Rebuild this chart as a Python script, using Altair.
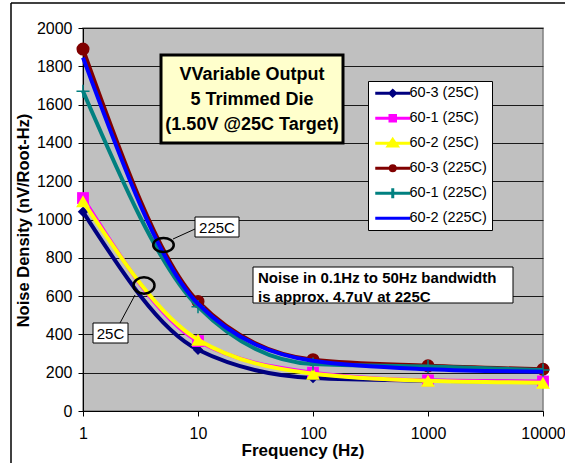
import altair as alt
import pandas as pd

# ---------------- data ----------------
freq = [1, 10, 100, 1000, 10000]
series = ["60-3 (25C)", "60-1 (25C)", "60-2 (25C)",
          "60-3 (225C)", "60-1 (225C)", "60-2 (225C)"]
s_60_3_25 = [1040, 320, 172, 158, 150]
s_60_1_25 = [1112, 365, 200, 160, 154]
s_60_2_25 = [1095, 372, 195, 158, 148]
s_60_3_225 = [1890, 572, 268, 236, 218]
s_60_1_225 = [1670, 545, 245, 232, 214]
s_60_2_225 = [1845, 560, 262, 218, 205]
all_values = [s_60_3_25, s_60_1_25, s_60_2_25, s_60_3_225, s_60_1_225, s_60_2_225]
colors = ["#000080", "#FF00FF", "#FFFF00", "#800000", "#008080", "#0000FF"]
y_ticks = list(range(0, 2001, 200))

rows = []
for name, vals in zip(series, all_values):
    for f, v in zip(freq, vals):
        rows.append({"series": name, "freq": f, "noise": v})
df = pd.DataFrame(rows)

FONT = "Liberation Sans"

# ---------------- encodings ----------------
X = alt.X("freq:Q",
          scale=alt.Scale(type="log", domain=[1, 10000]),
          axis=alt.Axis(values=freq, format="d", grid=False, title="Frequency (Hz)",
                        titleFont=FONT, titleFontSize=17, titleFontWeight="bold",
                        titleColor="black", titleX=219.5, titleY=39,
                        titleBaseline="middle", titleAlign="center",
                        labelFont=FONT, labelFontSize=16, labelColor="black",
                        labelPadding=9, tickSize=5, tickColor="black",
                        domainColor="black", labelFlush=False))
Y = alt.Y("noise:Q",
          scale=alt.Scale(domain=[0, 2000], nice=False),
          axis=alt.Axis(values=y_ticks, format="d", grid=True, gridColor="#1a1a1a",
                        gridWidth=1, title="Noise Density (nV/Root-Hz)",
                        titleFont=FONT, titleFontSize=16.5, titleFontWeight="bold",
                        titleColor="black", titleX=-60, titleY=192, titleAngle=270,
                        titleBaseline="middle", titleAlign="center",
                        labelFont=FONT, labelFontSize=16, labelColor="black",
                        labelPadding=6, tickSize=5, tickColor="black",
                        domainColor="black"))

cscale = alt.Scale(domain=series, range=colors)

marker_specs = [
    dict(shape="diamond", size=110, filled=True),
    dict(shape="square", size=140, filled=True),
    dict(shape="triangle-up", size=190, filled=True),
    dict(shape="circle", size=170, filled=True),
    dict(shape="M-1,0H1M0,-1V1", size=170, filled=False),
    None,
]

base = alt.Chart(df)
layers = []
for name, spec in zip(series, marker_specs):
    sub = base.transform_filter(alt.datum.series == name)
    layers.append(
        sub.mark_line(interpolate="monotone", strokeWidth=4).encode(
            x=X, y=Y, stroke=alt.Stroke("series:N", scale=cscale, legend=None))
    )
    if spec is not None:
        if spec["filled"]:
            layers.append(
                sub.mark_point(shape=spec["shape"], size=spec["size"], filled=True,
                               opacity=1).encode(
                    x=X, y=Y, fill=alt.Fill("series:N", scale=cscale, legend=None))
            )
        else:
            layers.append(
                sub.mark_point(shape=spec["shape"], size=spec["size"], filled=False,
                               strokeWidth=1.5, opacity=1).encode(
                    x=X, y=Y, stroke=alt.Stroke("series:N", scale=cscale, legend=None))
            )

# ---------------- legend (symbols: line + marker) ----------------
legend_shapes = [
    "M-1,0H6M2.5,-0.55L3.05,0L2.5,0.55L1.95,0Z",
    "M-1,0H6M1.95,-0.55H3.05V0.55H1.95Z",
    "M-1,0H6M2.5,-0.75L3.4,0.55L1.6,0.55Z",
    "M-1,0H6M2,0A0.5,0.5 0 1,0 3,0A0.5,0.5 0 1,0 2,0Z",
    "M-1,0H6M2.5,-1V1",
    "M-1,0H6",
]
leg = alt.Legend(title=None, orient="none", legendX=285, legendY=53, padding=5,
                 fillColor="white", strokeColor="black",
                 labelFont=FONT, labelFontSize=14.5, labelColor="black",
                 symbolSize=100, symbolStrokeWidth=3, labelOffset=22,
                 rowPadding=2, gridAlign="all")
legend_layer = base.transform_filter("false").mark_point(filled=True, opacity=1).encode(
    x=X, y=Y,
    fill=alt.Fill("series:N", scale=cscale, legend=leg),
    stroke=alt.Stroke("series:N", scale=cscale, legend=leg),
    shape=alt.Shape("series:N", scale=alt.Scale(domain=series, range=legend_shapes),
                    legend=leg),
)
layers.append(legend_layer)

# ---------------- annotations ----------------
one = alt.Chart(alt.Data(values=[{}]))

title_box = one.mark_rect(fill="#FFFFCC", stroke="black", strokeWidth=3).encode(
    x=alt.value(78), x2=alt.value(260), y=alt.value(27), y2=alt.value(115))
title_text = one.mark_text(
    text=["VVariable Output", "5 Trimmed Die", "(1.50V  @25C Target)"],
    font=FONT, fontWeight="bold", fontSize=18, lineHeight=25,
    align="center", baseline="middle", color="black").encode(
    x=alt.value(169), y=alt.value(47))

noise_box = one.mark_rect(fill="white", stroke="black", strokeWidth=1).encode(
    x=alt.value(170), x2=alt.value(430), y=alt.value(239), y2=alt.value(275))
noise_text = one.mark_text(
    text=["Noise in 0.1Hz to 50Hz bandwidth", "is approx. 4.7uV at 225C"],
    font=FONT, fontWeight="bold", fontSize=15, lineHeight=19,
    align="left", baseline="middle", color="black").encode(
    x=alt.value(175), y=alt.value(250))

hot_line = one.mark_rule(color="black", strokeWidth=1).encode(
    x=alt.value(90), y=alt.value(211), x2=alt.value(112), y2=alt.value(201))
hot_ell = one.mark_point(shape="M-1,0A1,0.68 0 1,1 1,0A1,0.68 0 1,1 -1,0Z",
                         size=420, filled=False, stroke="black", strokeWidth=2.5,
                         opacity=1).encode(x=alt.value(80.5), y=alt.value(217))
hot_box = one.mark_rect(fill="white", stroke="black", strokeWidth=1).encode(
    x=alt.value(112), x2=alt.value(156), y=alt.value(189), y2=alt.value(209))
hot_text = one.mark_text(text="225C", font=FONT, fontSize=15, align="center",
                         baseline="middle", color="black").encode(
    x=alt.value(134), y=alt.value(199.5))

cold_line = one.mark_rule(color="black", strokeWidth=1).encode(
    x=alt.value(37), y=alt.value(295), x2=alt.value(52), y2=alt.value(267))
cold_ell = one.mark_point(shape="M-1,0A1,0.78 0 1,1 1,0A1,0.78 0 1,1 -1,0Z",
                          size=441, filled=False, stroke="black", strokeWidth=2.5,
                          opacity=1).encode(x=alt.value(61), y=alt.value(257.5))
cold_box = one.mark_rect(fill="white", stroke="black", strokeWidth=1).encode(
    x=alt.value(10), x2=alt.value(45), y=alt.value(295), y2=alt.value(315))
cold_text = one.mark_text(text="25C", font=FONT, fontSize=15, align="center",
                          baseline="middle", color="black").encode(
    x=alt.value(27.5), y=alt.value(305.5))

# outer chart border (left and top edges visible in the frame)
border_left = one.mark_rule(color="black", strokeWidth=1.5).encode(
    x=alt.value(-72), y=alt.value(-25), y2=alt.value(440))
border_top = one.mark_rule(color="black", strokeWidth=1.5).encode(
    x=alt.value(-72), x2=alt.value(490), y=alt.value(-25))

layers += [title_box, title_text, noise_box, noise_text,
           hot_line, hot_ell, hot_box, hot_text,
           cold_line, cold_ell, cold_box, cold_text,
           border_left, border_top]

chart = alt.layer(*layers).resolve_legend(
    fill="independent", stroke="independent", shape="independent"
).properties(
    width=460, height=383,
    autosize=alt.AutoSizeParams(type="none"),
    padding={"left": 83, "top": 28, "right": 22, "bottom": 52},
    background="white",
).configure_view(fill="#C0C0C0", stroke="#808080", strokeWidth=1.5)

chart.save("out.html", embed_options={"renderer": "svg", "actions": False})
